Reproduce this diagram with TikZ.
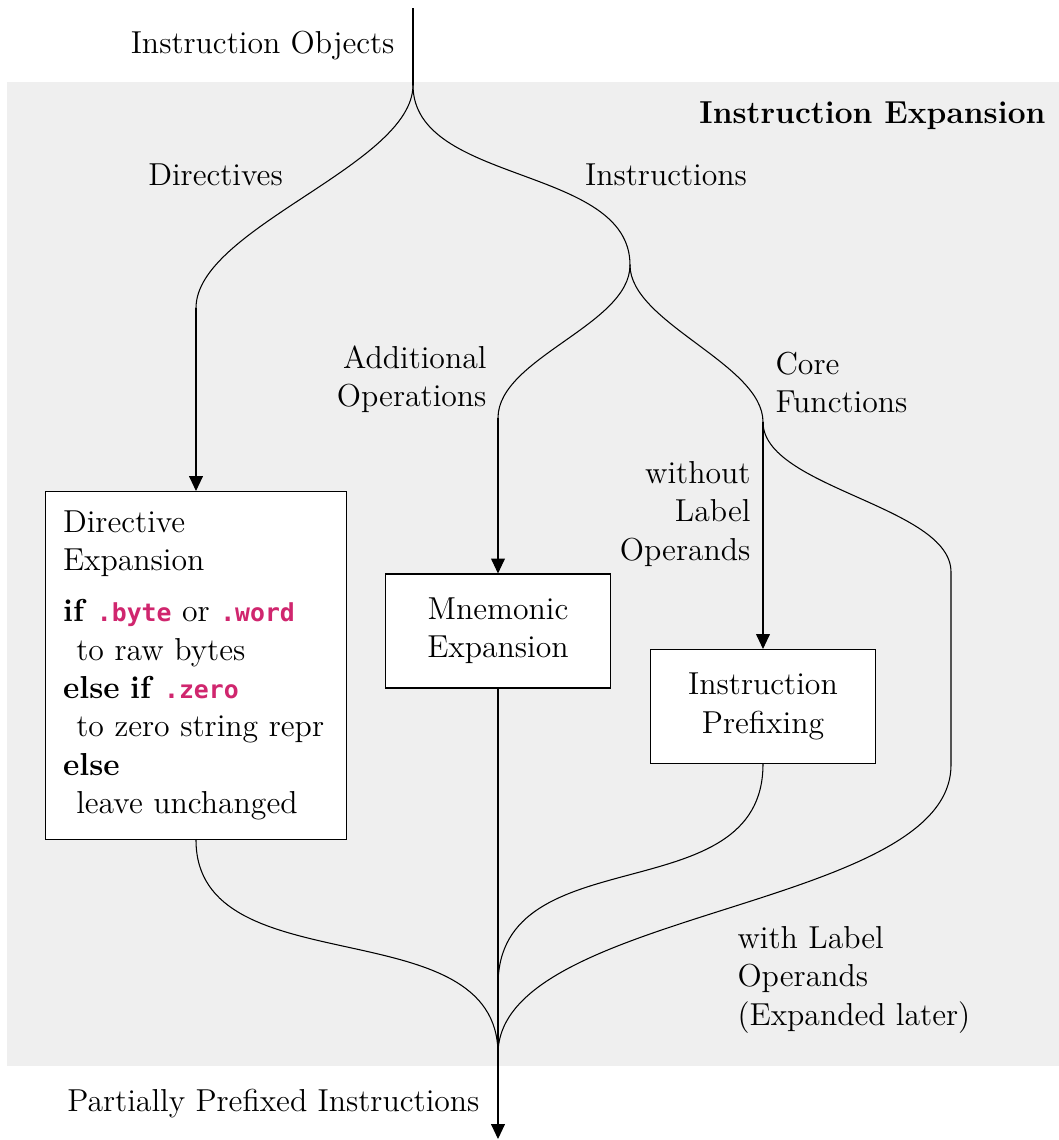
\documentclass[tikz,border=0pt]{standalone}
\usepackage{fontspec}
\newfontfamily\codefont{DejaVu Sans Mono}[Scale=0.78]
\usetikzlibrary{arrows.meta}

\definecolor{panelgray}{HTML}{EFEFEF}
\definecolor{codepink}{RGB}{208,38,110}
\newcommand{\kw}[1]{\textbf{#1}}
\newcommand{\code}[1]{{\codefont\bfseries\color{codepink}#1}}
\newcommand{\ind}{\hspace*{5pt}}

\begin{document}
\begin{tikzpicture}[x=0.378pt,y=-0.378pt,
  every node/.style={font=\fontsize{12pt}{14.5pt}\selectfont},
  lbl/.style={inner sep=0pt},
  stage/.style={draw=black, fill=white, line width=0.4pt, inner sep=0pt,
    minimum width=85.4pt, minimum height=43.1pt, align=center},
  flow/.style={draw=black, line width=0.4pt},
  arr/.style={flow, -{Triangle[width=5.2pt,length=5.6pt]}}]

\useasboundingbox (0,0) rectangle (1059,1140);

% shaded stage area
\fill[panelgray] (7,82) rectangle (1059,1066);

% processing stages
\node[stage, anchor=north, align=left, text width=100.5pt,
      inner xsep=6.8pt, minimum height=131.5pt] (dir) at (196,491) {%
  Directive\\Expansion\\[4.7pt]
  \kw{if} \code{.byte} or \code{.word}\\
  \ind to raw bytes\\
  \kw{else if} \code{.zero}\\
  \ind to zero string repr\\
  \kw{else}\\
  \ind leave unchanged};
\node[stage] (mne) at (498,631) {Mnemonic\\Expansion};
\node[stage] (pre) at (763,706.5) {Instruction\\Prefixing};

% branching points
\coordinate (src) at (413,8);
\coordinate (split) at (413,85);
\coordinate (dirbend) at (dir.north |- 0,308);
\coordinate (instr) at (630,265);
\coordinate (addop) at (mne.north |- 0,418);
\coordinate (core) at (pre.north |- 0,422);
\coordinate (labelbend) at (951,572);
\coordinate (labeldown) at (951,765);
\coordinate (merge) at (mne.south |- 0,985);
\coordinate (join) at (mne.south |- 0,1054);
\coordinate (out) at (mne.south |- 0,1139);

% flow lines
\draw[flow] (src) -- (split);
\draw[flow] (split) .. controls +(0,80) and +(0,-80) .. (dirbend);
\draw[arr] (dirbend) -- (dir.north);
\draw[flow] (split) .. controls +(0,100) and +(0,-100) .. (instr);
\draw[flow] (instr) .. controls +(0,60) and +(0,-60) .. (addop);
\draw[arr] (addop) -- (mne.north);
\draw[flow] (instr) .. controls +(0,58) and +(0,-58) .. (core);
\draw[arr] (core) -- (pre.north);
\draw[flow] (core) .. controls +(0,66) and +(0,-66) .. (labelbend)
  -- (labeldown) .. controls +(0,145) and +(0,-145) .. (join);
\draw[flow] (mne.south) -- (join);
\draw[flow] (pre.south) .. controls +(0,150) and +(0,-150) .. (merge);
\draw[flow] (dir.south) .. controls +(0,148) and +(0,-148) .. (join);
\draw[arr] (join) -- (out);

% labels
\node[lbl, anchor=base east] (lobj) at (395,53) {Instruction Objects};
\node[lbl, anchor=base east] (ltitle) at (1046,123) {\textbf{Instruction Expansion}};
\node[lbl, anchor=base] (ldir) at (215.5,185) {Directives};
\node[lbl, anchor=base] (lins) at (666,185) {Instructions};
\node[lbl, anchor=north east, align=right] (ladd) at (487,345) {Additional\\Operations};
\node[lbl, anchor=north west, align=left] (lcore) at (775,351.3) {Core\\Functions};
\node[lbl, anchor=north east, align=right] (lwo) at (751,461) {without\\Label\\Operands};
\node[lbl, anchor=north west, align=left] (lwith) at (737,926) {with Label\\Operands\\(Expanded later)};
\node[lbl, anchor=base east] (lpart) at (480,1111) {Partially Prefixed Instructions};
\end{tikzpicture}
\end{document}
